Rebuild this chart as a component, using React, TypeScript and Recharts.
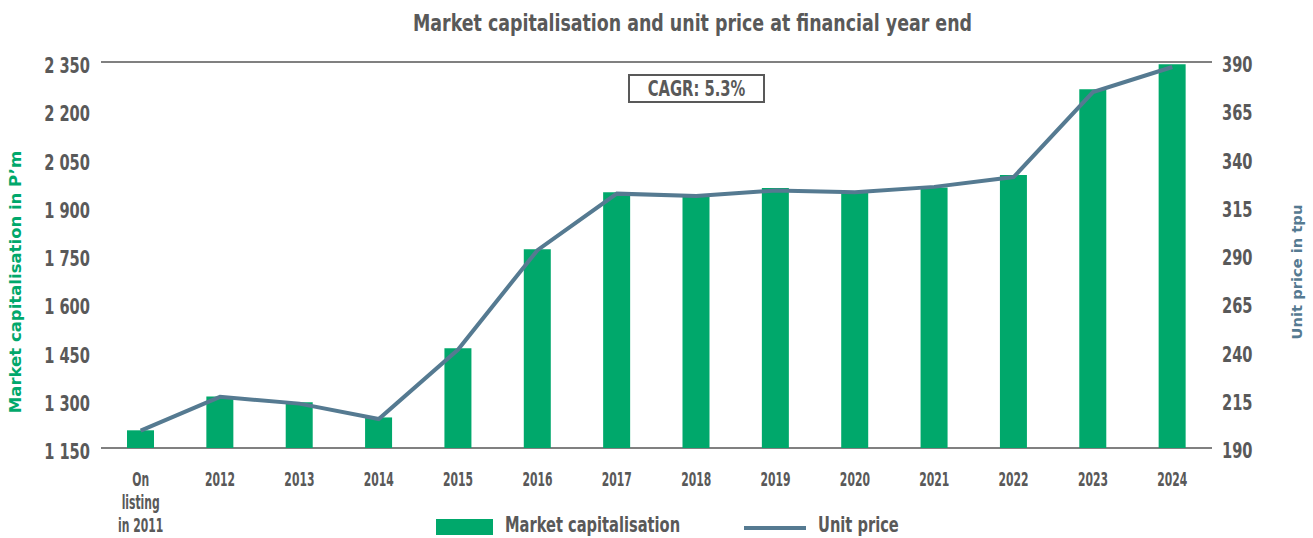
import React from "react"
import { ComposedChart, Bar, Line, XAxis, YAxis, CartesianGrid, Legend } from "recharts"

document.body.style.margin = "0"

const years = ["On\nlisting\nin 2011", "2012", "2013", "2014", "2015", "2016", "2017", "2018", "2019", "2020", "2021", "2022", "2023", "2024"]
const marketCap = [1205, 1310, 1292, 1245, 1460, 1768, 1945, 1932, 1958, 1944, 1960, 1999, 2265, 2343]
const unitPrice = [199, 216.5, 213, 205, 241, 292.5, 321.8, 320.6, 323.4, 322.5, 325.3, 330.4, 374.4, 387.4]
const capTicks = [1150, 1300, 1450, 1600, 1750, 1900, 2050, 2200, 2350]
const priceTicks = [190, 215, 240, 265, 290, 315, 340, 365, 390]

const data = years.map((year, i) => ({ year, cap: marketCap[i], price: unitPrice[i] }))

const GREEN = "#00A86B"
const BLUE = "#557A91"
const GREY = "#595959"
const NARROW = "'DejaVu Sans Condensed', 'DejaVu Sans', sans-serif"
const WIDE = "'DejaVu Sans', Verdana, sans-serif"

const fmtCap = (v: number) => {
  const s = String(v)
  return s.length > 3 ? s.slice(0, s.length - 3) + " " + s.slice(-3) : s
}

// the source font is a very narrow bold face, so squeeze DejaVu Condensed horizontally
function YearTick({ x, y, payload }: any) {
  const lines = String(payload.value).split("\n")
  return (
    <g transform={`translate(${x},${y})`}>
      <text transform="scale(0.6,1)" textAnchor="middle" fill={GREY} fontFamily={NARROW} fontWeight="bold" fontSize={20}>
        {lines.map((l, i) => (
          <tspan key={i} x={0} dy={i === 0 ? 30 : 23}>
            {l}
          </tspan>
        ))}
      </text>
    </g>
  )
}

function CapTick({ x, y, payload }: any) {
  return (
    <g transform={`translate(${x},${y})`}>
      <text transform="scale(0.74,1)" y={11} textAnchor="end" fill={GREY} fontFamily={NARROW} fontWeight="bold" fontSize={22}>
        {fmtCap(payload.value)}
      </text>
    </g>
  )
}

function PriceTick({ x, y, payload }: any) {
  return (
    <g transform={`translate(${x},${y})`}>
      <text transform="scale(0.74,1)" y={10} textAnchor="start" fill={GREY} fontFamily={NARROW} fontWeight="bold" fontSize={22}>
        {payload.value}
      </text>
    </g>
  )
}

const squeeze = (s: number): React.CSSProperties => ({
  transform: `scaleX(${s})`,
  transformOrigin: "left center",
  whiteSpace: "nowrap",
})

function LegendContent() {
  return (
    <div style={{ position: "relative", height: 30, fontFamily: NARROW, fontWeight: "bold", fontSize: 22, color: GREY }}>
      <div style={{ position: "absolute", left: 436, top: 11, width: 57, height: 16, background: GREEN }} />
      <div style={{ position: "absolute", left: 505, top: 4, ...squeeze(0.74) }}>Market capitalisation</div>
      <div style={{ position: "absolute", left: 744, top: 18, width: 62, height: 4, background: BLUE }} />
      <div style={{ position: "absolute", left: 818, top: 4, ...squeeze(0.74) }}>Unit price</div>
    </div>
  )
}

export default function App() {
  return (
    <div style={{ position: "relative", width: 1313, height: 538, background: "#fff", fontFamily: NARROW }}>
      <div
        style={{
          position: "absolute",
          left: 413,
          top: 10,
          fontSize: 22.5,
          fontWeight: "bold",
          color: GREY,
          ...squeeze(0.86),
        }}
      >
        Market capitalisation and unit price at financial year end
      </div>
      <ComposedChart width={1313} height={538} data={data} margin={{ top: 62, right: 0, bottom: 30, left: 0 }}>
        <CartesianGrid vertical={false} stroke="#808080" strokeWidth={2} />
        <XAxis dataKey="year" height={30} axisLine={false} tickLine={false} interval={0} tick={<YearTick />} />
        <YAxis
          yAxisId="cap"
          width={101}
          domain={[1150, 2350]}
          ticks={capTicks}
          axisLine={false}
          tickLine={false}
          tickMargin={5}
          tick={<CapTick />}
        />
        <YAxis
          yAxisId="price"
          orientation="right"
          width={101}
          domain={[190, 390]}
          ticks={priceTicks}
          axisLine={false}
          tickLine={false}
          tickMargin={4}
          tick={<PriceTick />}
        />
        <Bar yAxisId="cap" dataKey="cap" name="Market capitalisation" fill={GREEN} barSize={27} isAnimationActive={false} />
        <Line
          yAxisId="price"
          dataKey="price"
          name="Unit price"
          stroke={BLUE}
          strokeWidth={4}
          dot={false}
          isAnimationActive={false}
        />
        <Legend content={<LegendContent />} wrapperStyle={{ left: 0, top: 508, width: 1313, height: 30 }} />
        <text
          x={15}
          y={282}
          transform="rotate(-90 15 282)"
          textAnchor="middle"
          dominantBaseline="central"
          fill={GREEN}
          fontFamily={WIDE}
          fontWeight="bold"
          fontSize={16.5}
        >
          Market capitalisation in P’m
        </text>
        <text
          x={1296}
          y={272}
          transform="rotate(-90 1296 272)"
          textAnchor="middle"
          dominantBaseline="central"
          fill={BLUE}
          fontFamily={WIDE}
          fontWeight="bold"
          fontSize={14.7}
        >
          Unit price in tpu
        </text>
      </ComposedChart>
      <div
        style={{
          position: "absolute",
          left: 628,
          top: 74,
          width: 137,
          height: 29,
          boxSizing: "border-box",
          border: `2px solid ${GREY}`,
          background: "#fff",
          color: GREY,
          fontSize: 21,
          fontWeight: "bold",
          display: "flex",
          alignItems: "center",
          justifyContent: "center",
        }}
      >
        <span style={{ display: "inline-block", transform: "scaleX(0.78)", whiteSpace: "nowrap" }}>CAGR: 5.3%</span>
      </div>
    </div>
  )
}
